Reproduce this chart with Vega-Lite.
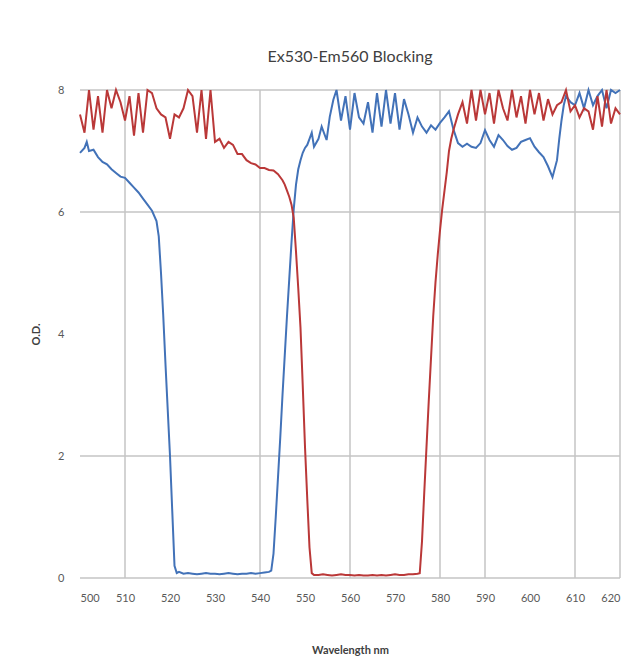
{
  "$schema": "https://vega.github.io/schema/vega-lite/v6.json",
  "autosize": {"type": "none"},
  "width": 540,
  "height": 488,
  "padding": {"left": 80, "top": 90, "right": 21, "bottom": 78},
  "background": "white",
  "config": {"view": {"stroke": null}, "font": "Lato"},
  "title": {"text": "Ex530-Em560 Blocking", "fontSize": 16, "fontWeight": "normal", "color": "#404040", "font": "Lato", "offset": 19, "anchor": "middle"},
  "datasets": {
    "ex": [
      {"wl":500,"od":6.97},{"wl":501,"od":7.05},{"wl":501.5,"od":7.15},{"wl":502,"od":7.0},{"wl":503,"od":7.02},{"wl":504,"od":6.9},{"wl":505,"od":6.82},{"wl":506,"od":6.78},{"wl":507,"od":6.7},{"wl":508,"od":6.64},{"wl":509,"od":6.58},{"wl":510,"od":6.56},{"wl":511,"od":6.48},{"wl":512,"od":6.4},{"wl":513,"od":6.32},{"wl":514,"od":6.22},{"wl":515,"od":6.12},{"wl":516,"od":6.02},{"wl":517,"od":5.85},{"wl":517.5,"od":5.6},{"wl":518,"od":5.0},{"wl":518.5,"od":4.3},{"wl":519,"od":3.5},{"wl":519.5,"od":2.75},{"wl":520,"od":2.0},{"wl":520.5,"od":1.1},{"wl":521,"od":0.2},{"wl":521.5,"od":0.08},{"wl":522,"od":0.1},{"wl":523,"od":0.07},{"wl":524,"od":0.08},{"wl":525,"od":0.07},{"wl":526,"od":0.06},{"wl":527,"od":0.07},{"wl":528,"od":0.08},{"wl":529,"od":0.07},{"wl":530,"od":0.07},{"wl":531,"od":0.06},{"wl":532,"od":0.07},{"wl":533,"od":0.08},{"wl":534,"od":0.07},{"wl":535,"od":0.06},{"wl":536,"od":0.07},{"wl":537,"od":0.07},{"wl":538,"od":0.08},{"wl":539,"od":0.07},{"wl":540,"od":0.08},{"wl":541,"od":0.09},{"wl":542,"od":0.1},{"wl":542.5,"od":0.12},{"wl":543,"od":0.4},{"wl":543.5,"od":1.0},{"wl":544,"od":1.65},{"wl":544.5,"od":2.3},{"wl":545,"od":3.0},{"wl":545.5,"od":3.65},{"wl":546,"od":4.3},{"wl":546.5,"od":4.9},{"wl":547,"od":5.5},{"wl":547.5,"od":6.05},{"wl":548,"od":6.45},{"wl":548.5,"od":6.7},{"wl":549,"od":6.85},{"wl":549.5,"od":6.97},{"wl":550,"od":7.05},{"wl":550.5,"od":7.1},{"wl":551,"od":7.2},{"wl":551.5,"od":7.3},{"wl":552,"od":7.07},{"wl":553,"od":7.2},{"wl":553.7,"od":7.4},{"wl":554.8,"od":7.18},{"wl":555.5,"od":7.56},{"wl":556.3,"od":7.84},{"wl":557,"od":8.0},{"wl":558,"od":7.5},{"wl":559,"od":7.9},{"wl":560,"od":7.35},{"wl":561,"od":7.95},{"wl":562,"od":7.55},{"wl":563,"od":7.45},{"wl":564,"od":7.8},{"wl":565,"od":7.3},{"wl":566,"od":7.95},{"wl":567,"od":7.4},{"wl":568,"od":8.0},{"wl":569,"od":7.45},{"wl":570,"od":7.95},{"wl":571,"od":7.35},{"wl":572,"od":7.85},{"wl":573,"od":7.6},{"wl":574,"od":7.3},{"wl":575,"od":7.55},{"wl":576,"od":7.4},{"wl":577,"od":7.3},{"wl":578,"od":7.42},{"wl":579,"od":7.35},{"wl":580,"od":7.46},{"wl":581,"od":7.55},{"wl":582,"od":7.65},{"wl":583,"od":7.35},{"wl":584,"od":7.13},{"wl":585,"od":7.07},{"wl":586,"od":7.12},{"wl":587,"od":7.07},{"wl":588,"od":7.05},{"wl":589,"od":7.13},{"wl":590,"od":7.34},{"wl":591,"od":7.18},{"wl":592,"od":7.07},{"wl":593,"od":7.26},{"wl":594,"od":7.18},{"wl":595,"od":7.08},{"wl":596,"od":7.02},{"wl":597,"od":7.05},{"wl":598,"od":7.15},{"wl":599,"od":7.18},{"wl":600,"od":7.21},{"wl":601,"od":7.07},{"wl":602,"od":6.98},{"wl":603,"od":6.9},{"wl":604,"od":6.75},{"wl":605,"od":6.57},{"wl":606,"od":6.85},{"wl":606.5,"od":7.2},{"wl":607,"od":7.5},{"wl":607.5,"od":7.75},{"wl":608,"od":7.9},{"wl":609,"od":7.8},{"wl":610,"od":7.75},{"wl":611,"od":7.95},{"wl":612,"od":7.7},{"wl":613,"od":8.0},{"wl":614,"od":7.75},{"wl":615,"od":7.9},{"wl":616,"od":8.0},{"wl":617,"od":7.7},{"wl":618,"od":8.0},{"wl":619,"od":7.95},{"wl":620,"od":8.0}
    ],
    "em": [
      {"wl":500,"od":7.6},{"wl":501,"od":7.3},{"wl":502,"od":8.0},{"wl":503,"od":7.35},{"wl":504,"od":7.9},{"wl":505,"od":7.3},{"wl":506,"od":8.0},{"wl":507,"od":7.7},{"wl":508,"od":8.0},{"wl":509,"od":7.8},{"wl":510,"od":7.5},{"wl":511,"od":7.9},{"wl":512,"od":7.25},{"wl":513,"od":7.95},{"wl":514,"od":7.3},{"wl":515,"od":8.0},{"wl":516,"od":7.95},{"wl":517,"od":7.7},{"wl":518,"od":7.6},{"wl":519,"od":7.55},{"wl":520,"od":7.2},{"wl":521,"od":7.6},{"wl":522,"od":7.55},{"wl":523,"od":7.7},{"wl":524,"od":8.0},{"wl":525,"od":7.9},{"wl":526,"od":7.3},{"wl":527,"od":8.0},{"wl":528,"od":7.2},{"wl":529,"od":8.0},{"wl":530,"od":7.15},{"wl":531,"od":7.2},{"wl":532,"od":7.05},{"wl":533,"od":7.15},{"wl":534,"od":7.1},{"wl":535,"od":6.95},{"wl":536,"od":6.95},{"wl":537,"od":6.85},{"wl":538,"od":6.8},{"wl":539,"od":6.78},{"wl":540,"od":6.72},{"wl":541,"od":6.72},{"wl":542,"od":6.69},{"wl":543,"od":6.68},{"wl":544,"od":6.62},{"wl":545,"od":6.52},{"wl":545.5,"od":6.45},{"wl":546,"od":6.35},{"wl":546.5,"od":6.25},{"wl":547,"od":6.12},{"wl":547.5,"od":5.9},{"wl":548,"od":5.35},{"wl":548.5,"od":4.75},{"wl":549,"od":4.1},{"wl":549.5,"od":3.15},{"wl":550,"od":2.15},{"wl":550.5,"od":1.3},{"wl":551,"od":0.5},{"wl":551.5,"od":0.08},{"wl":552,"od":0.05},{"wl":553,"od":0.05},{"wl":554,"od":0.06},{"wl":555,"od":0.05},{"wl":556,"od":0.04},{"wl":557,"od":0.05},{"wl":558,"od":0.06},{"wl":559,"od":0.05},{"wl":560,"od":0.05},{"wl":561,"od":0.04},{"wl":562,"od":0.05},{"wl":563,"od":0.04},{"wl":564,"od":0.04},{"wl":565,"od":0.05},{"wl":566,"od":0.04},{"wl":567,"od":0.05},{"wl":568,"od":0.04},{"wl":569,"od":0.05},{"wl":570,"od":0.06},{"wl":571,"od":0.05},{"wl":572,"od":0.05},{"wl":573,"od":0.06},{"wl":574,"od":0.06},{"wl":575,"od":0.07},{"wl":575.5,"od":0.08},{"wl":576,"od":0.6},{"wl":576.5,"od":1.4},{"wl":577,"od":2.15},{"wl":577.5,"od":2.9},{"wl":578,"od":3.6},{"wl":578.5,"od":4.3},{"wl":579,"od":4.85},{"wl":579.5,"od":5.3},{"wl":580,"od":5.7},{"wl":580.5,"od":6.05},{"wl":581,"od":6.35},{"wl":581.5,"od":6.65},{"wl":582,"od":7.0},{"wl":582.5,"od":7.2},{"wl":583,"od":7.35},{"wl":584,"od":7.6},{"wl":585,"od":7.8},{"wl":586,"od":7.45},{"wl":587,"od":8.0},{"wl":588,"od":7.5},{"wl":589,"od":8.0},{"wl":590,"od":7.6},{"wl":591,"od":7.95},{"wl":592,"od":7.45},{"wl":593,"od":8.0},{"wl":594,"od":7.7},{"wl":595,"od":7.5},{"wl":596,"od":8.0},{"wl":597,"od":7.55},{"wl":598,"od":7.9},{"wl":599,"od":7.45},{"wl":600,"od":8.0},{"wl":601,"od":7.6},{"wl":602,"od":7.95},{"wl":603,"od":7.5},{"wl":604,"od":7.85},{"wl":605,"od":7.6},{"wl":606,"od":7.75},{"wl":607,"od":7.8},{"wl":608,"od":8.0},{"wl":609,"od":7.65},{"wl":610,"od":7.75},{"wl":611,"od":7.55},{"wl":612,"od":7.7},{"wl":613,"od":7.65},{"wl":614,"od":7.35},{"wl":615,"od":7.9},{"wl":616,"od":7.4},{"wl":617,"od":8.0},{"wl":618,"od":7.45},{"wl":619,"od":7.7},{"wl":620,"od":7.6}
    ],
    "vgrid": [{"wl":510},{"wl":540},{"wl":560},{"wl":580},{"wl":590},{"wl":610},{"wl":620}],
    "hgrid": [{"od":0},{"od":2},{"od":6},{"od":8}]
  },
  "layer": [
    {
      "data": {"name": "vgrid"},
      "mark": {"type": "rule", "color": "#c4c4c4", "strokeWidth": 1.5},
      "encoding": {"x": {"field": "wl", "type": "quantitative"}}
    },
    {
      "data": {"name": "hgrid"},
      "mark": {"type": "rule", "color": "#c4c4c4", "strokeWidth": 1.5},
      "encoding": {"y": {"field": "od", "type": "quantitative"}}
    },
    {
      "data": {"name": "ex"},
      "mark": {"type": "line", "color": "#4272B8", "strokeWidth": 2},
      "encoding": {
        "x": {"field": "wl", "type": "quantitative", "scale": {"domain": [500, 620], "nice": false, "zero": false},
              "axis": {"values": [500,510,520,530,540,550,560,570,580,590,600,610,620], "format": "d", "grid": false, "ticks": false, "domain": false, "labelColor": "#595959", "labelFontSize": 11, "labelPadding": 14, "title": "Wavelength nm", "titleFontSize": 11, "titleFontWeight": "bold", "titleColor": "#404040", "titlePadding": 41}},
        "y": {"field": "od", "type": "quantitative", "scale": {"domain": [0, 8], "nice": false},
              "axis": {"values": [0,2,4,6,8], "format": "d", "grid": false, "ticks": false, "domain": false, "labelColor": "#595959", "labelFontSize": 11, "labelPadding": 16, "title": "O.D.", "titleFontSize": 11, "titleFontWeight": "bold", "titleColor": "#404040", "titlePadding": 16}}
      }
    },
    {
      "data": {"name": "em"},
      "mark": {"type": "line", "color": "#BA3838", "strokeWidth": 2},
      "encoding": {
        "x": {"field": "wl", "type": "quantitative"},
        "y": {"field": "od", "type": "quantitative"}
      }
    }
  ]
}
